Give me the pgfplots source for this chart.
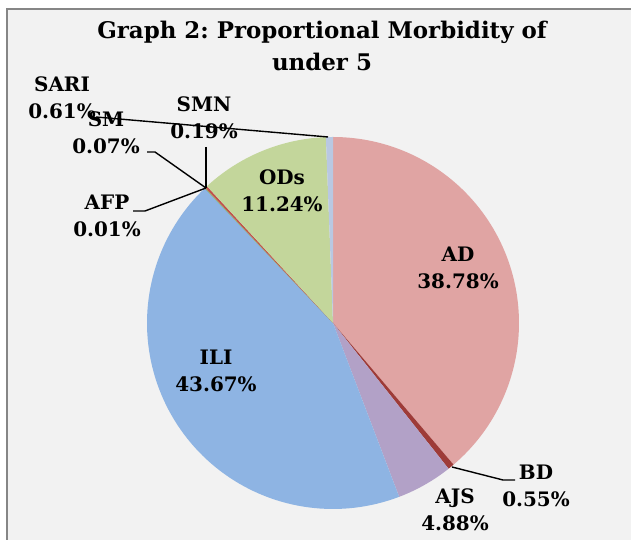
\documentclass[border=0pt]{standalone}
\usepackage{pgfplots}
\pgfplotsset{compat=1.18}
\usepackage{fontspec}
\setmainfont{DejaVu Serif}
\frenchspacing
\definecolor{bg}{HTML}{F2F2F2}
\definecolor{frame}{HTML}{868686}
\definecolor{cAD}{HTML}{E0A4A3}
\definecolor{cBD}{HTML}{9E3B38}
\definecolor{cAJS}{HTML}{B2A1C7}
\definecolor{cILI}{HTML}{8EB4E3}
\definecolor{cAFP}{HTML}{4F81BD}
\definecolor{cSM}{HTML}{9BBB59}
\definecolor{cSMN}{HTML}{C0504D}
\definecolor{cODs}{HTML}{C3D69B}
\definecolor{cSARI}{HTML}{B9C8E2}
% slice: start cumulative %, end cumulative %, colour
\newcommand{\slice}[3]{%
  \pgfmathsetmacro{\aS}{90-3.6*#2}%
  \pgfmathsetmacro{\aE}{90-3.6*#1}%
  \addplot[fill=#3, draw=none, domain=\aS:\aE, samples=90, variable=\t]
    ({333+186*cos(\t)},{217+186*sin(\t)}) -- (axis cs:333,217) -- cycle;
}
\tikzset{lbl/.style={font=\bfseries\fontsize{20}{27}\selectfont, align=center, inner sep=0pt}}
\begin{document}
\begin{tikzpicture}
\begin{axis}[
  scale only axis, width=631bp, height=540bp,
  xmin=0, xmax=631, ymin=0, ymax=540,
  hide axis, clip=false,
]
\path (axis cs:0,0) rectangle (axis cs:631,540);
\fill[bg] (axis cs:6,0) rectangle (axis cs:631,532);
\fill[frame] (axis cs:6,0) rectangle (axis cs:8,532);
\fill[frame] (axis cs:6,530) rectangle (axis cs:631,532);
% slices (cumulative percentages)
\slice{0}{38.78}{cAD}
\slice{38.78}{39.33}{cBD}
\slice{39.33}{44.21}{cAJS}
\slice{44.21}{87.88}{cILI}
\slice{87.88}{87.89}{cAFP}
\slice{87.89}{87.96}{cSM}
\slice{87.96}{88.15}{cSMN}
\slice{88.15}{99.39}{cODs}
\slice{99.39}{100}{cSARI}
% leader lines
\addplot[black, line width=1.4pt] coordinates {(96,423) (328,403)};
\addplot[black, line width=1.4pt] coordinates {(147,388) (155,388) (206,352)};
\addplot[black, line width=1.4pt] coordinates {(133,329) (145,329) (206,352)};
\addplot[black, line width=1.4pt] coordinates {(206,393) (206,352)};
\addplot[black, line width=1.4pt] coordinates {(452,73) (503,60) (515,60)};
% title
\node[lbl, font=\bfseries\fontsize{23}{32}\selectfont] at (axis cs:322,494) {Graph 2: Proportional Morbidity of\\under 5};
% labels
\node[lbl] at (axis cs:458,272) {AD\\38.78\%};
\node[lbl] at (axis cs:216,169) {ILI\\43.67\%};
\node[lbl] at (axis cs:282,349) {ODs\\11.24\%};
\node[lbl] at (axis cs:536,54) {BD\\0.55\%};
\node[lbl] at (axis cs:455,30) {AJS\\4.88\%};
\node[lbl] at (axis cs:204,422) {SMN\\0.19\%};
\node[lbl] at (axis cs:62,442) {SARI\\0.61\%};
\node[lbl] at (axis cs:106,407) {SM\\0.07\%};
\node[lbl] at (axis cs:107,324) {AFP\\0.01\%};
\end{axis}
\end{tikzpicture}
\end{document}
